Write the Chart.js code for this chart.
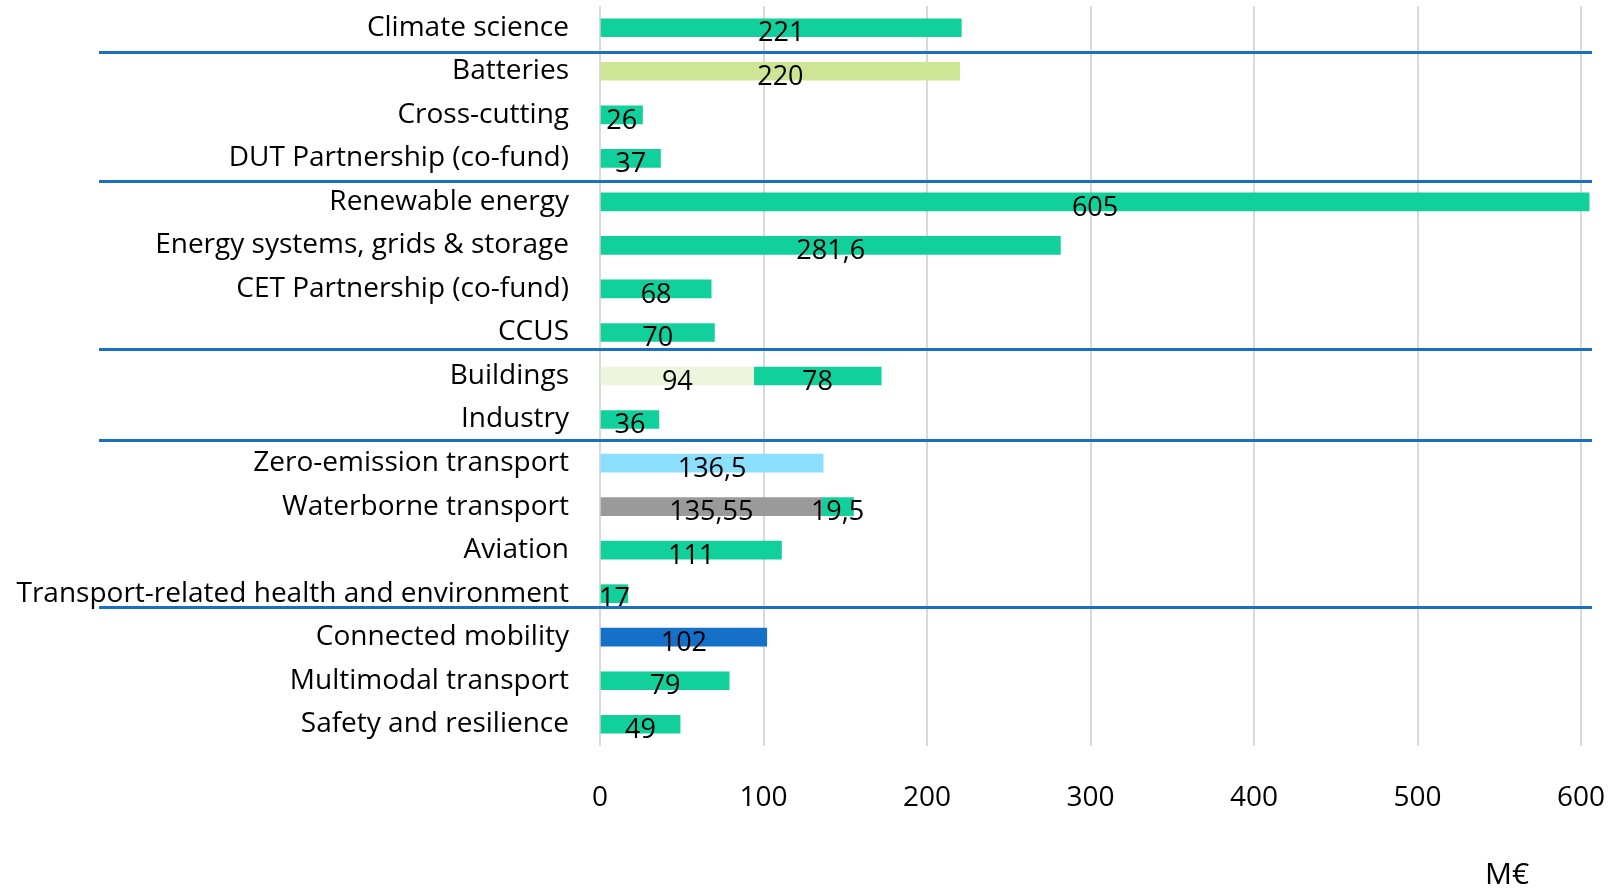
<!DOCTYPE html>
<html>
<head>
<meta charset="utf-8">
<script src="https://cdn.jsdelivr.net/npm/chart.js@4.4.1/dist/chart.umd.min.js"></script>
<style>
  html, body { margin: 0; padding: 0; background: #fff; }
  #wrap { width: 1611px; height: 891px; }
</style>
</head>
<body>
<div id="wrap"><canvas id="graphe"></canvas></div>
<script>
// donnees

var categories = ['Climate science', 'Batteries', 'Cross-cutting', 'DUT Partnership (co-fund)',
  'Renewable energy', 'Energy systems, grids & storage', 'CET Partnership (co-fund)', 'CCUS',
  'Buildings', 'Industry', 'Zero-emission transport', 'Waterborne transport', 'Aviation',
  'Transport-related health and environment', 'Connected mobility', 'Multimodal transport',
  'Safety and resilience'];

var montants = [221, 220, 26, 37, 605, 281.6, 68, 70, 94, 36, 136.5, 135.55, 111, 17, 102, 79, 49];
var complement = [null, null, null, null, null, null, null, null, 78, null, null, 19.5, null, null, null, null, null];

var ticksX = [0, 100, 200, 300, 400, 500, 600];

// separateurs entre groupes (en position de categorie)
var separateurs = [0.55, 3.52, 7.38, 9.47, 13.31];

var vert = '#12D09C';
var couleurs = [vert, '#CDE595', vert, vert, vert, vert, vert, vert, '#EDF5DC', vert,
  '#8CDFFC', '#9A9A9A', vert, vert, '#1570C8', vert, vert];

var police = "'Open Sans', sans-serif";

function formatFr(v) {
  return String(v).replace('.', ',');
}

// pas de marge automatique autour des axes
function sansMarge(s) {
  s.paddingTop = 0;
  s.paddingBottom = 0;
  s.paddingLeft = 0;
  s.paddingRight = 0;
}

// plugin etiquettes + lignes
var pluginDessin = {
  id: 'dessin',
  afterDatasetsDraw: function(chart) {
    var ctx = chart.ctx;
    ctx.save();
    ctx.fillStyle = '#000';
    ctx.font = '27px ' + police;
    ctx.textAlign = 'center';
    ctx.textBaseline = 'middle';
    chart.data.datasets.forEach(function(ds, di) {
      var meta = chart.getDatasetMeta(di);
      meta.data.forEach(function(bar, i) {
        var v = ds.data[i];
        if (v === null || v === undefined) return;
        var x = (bar.x + bar.base) / 2;
        ctx.fillText(formatFr(v), x, bar.y + 6);
      });
    });

    var y = chart.scales.y;
    ctx.strokeStyle = '#1A6FC4';
    ctx.lineWidth = 3;
    separateurs.forEach(function(s) {
      var py = Math.round(y.getPixelForValue(s)) + 0.5;
      ctx.beginPath();
      ctx.moveTo(99, py);
      ctx.lineTo(chart.chartArea.right + 11, py);
      ctx.stroke();
    });

    ctx.font = '30px ' + police;
    ctx.fillText('M€', chart.chartArea.right - 74, 875);
    ctx.restore();
  }
};

var ctx = document.getElementById('graphe');

var chart = new Chart(ctx, {
  type: 'bar',
  data: {
    labels: categories,
    datasets: [
      { data: montants, backgroundColor: couleurs, barThickness: 18, clip: false, stack: 's' },
      { data: complement, backgroundColor: vert, barThickness: 18, clip: false, stack: 's' }
    ]
  },
  options: {
    indexAxis: 'y',
    responsive: true,
    maintainAspectRatio: false,
    animation: false,
    layout: { autoPadding: false, padding: { top: 6, right: 30, left: 0, bottom: 0 } },
    plugins: {
      legend: { display: false },
      tooltip: { enabled: false }
    },
    scales: {
      x: {
        stacked: true,
        min: 0,
        max: 600,
        afterBuildTicks: function(s) {
          s.ticks = ticksX.map(function(v) { return { value: v }; });
        },
        afterFit: function(s) { s.height = 145; sansMarge(s); },
        grid: { color: '#D9D9D9', lineWidth: 2, drawTicks: false },
        border: { display: false },
        ticks: {
          padding: 35,
          color: '#000',
          font: { family: police, size: 28 }
        }
      },
      y: {
        stacked: true,
        afterFit: function(s) { s.width = 600; sansMarge(s); },
        grid: { display: false, drawTicks: false },
        border: { display: false },
        ticks: {
          padding: 31,
          color: '#000',
          autoSkip: false,
          font: { family: police, size: 28 }
        }
      }
    }
  },
  plugins: [pluginDessin]
});
</script>
</body>
</html>
